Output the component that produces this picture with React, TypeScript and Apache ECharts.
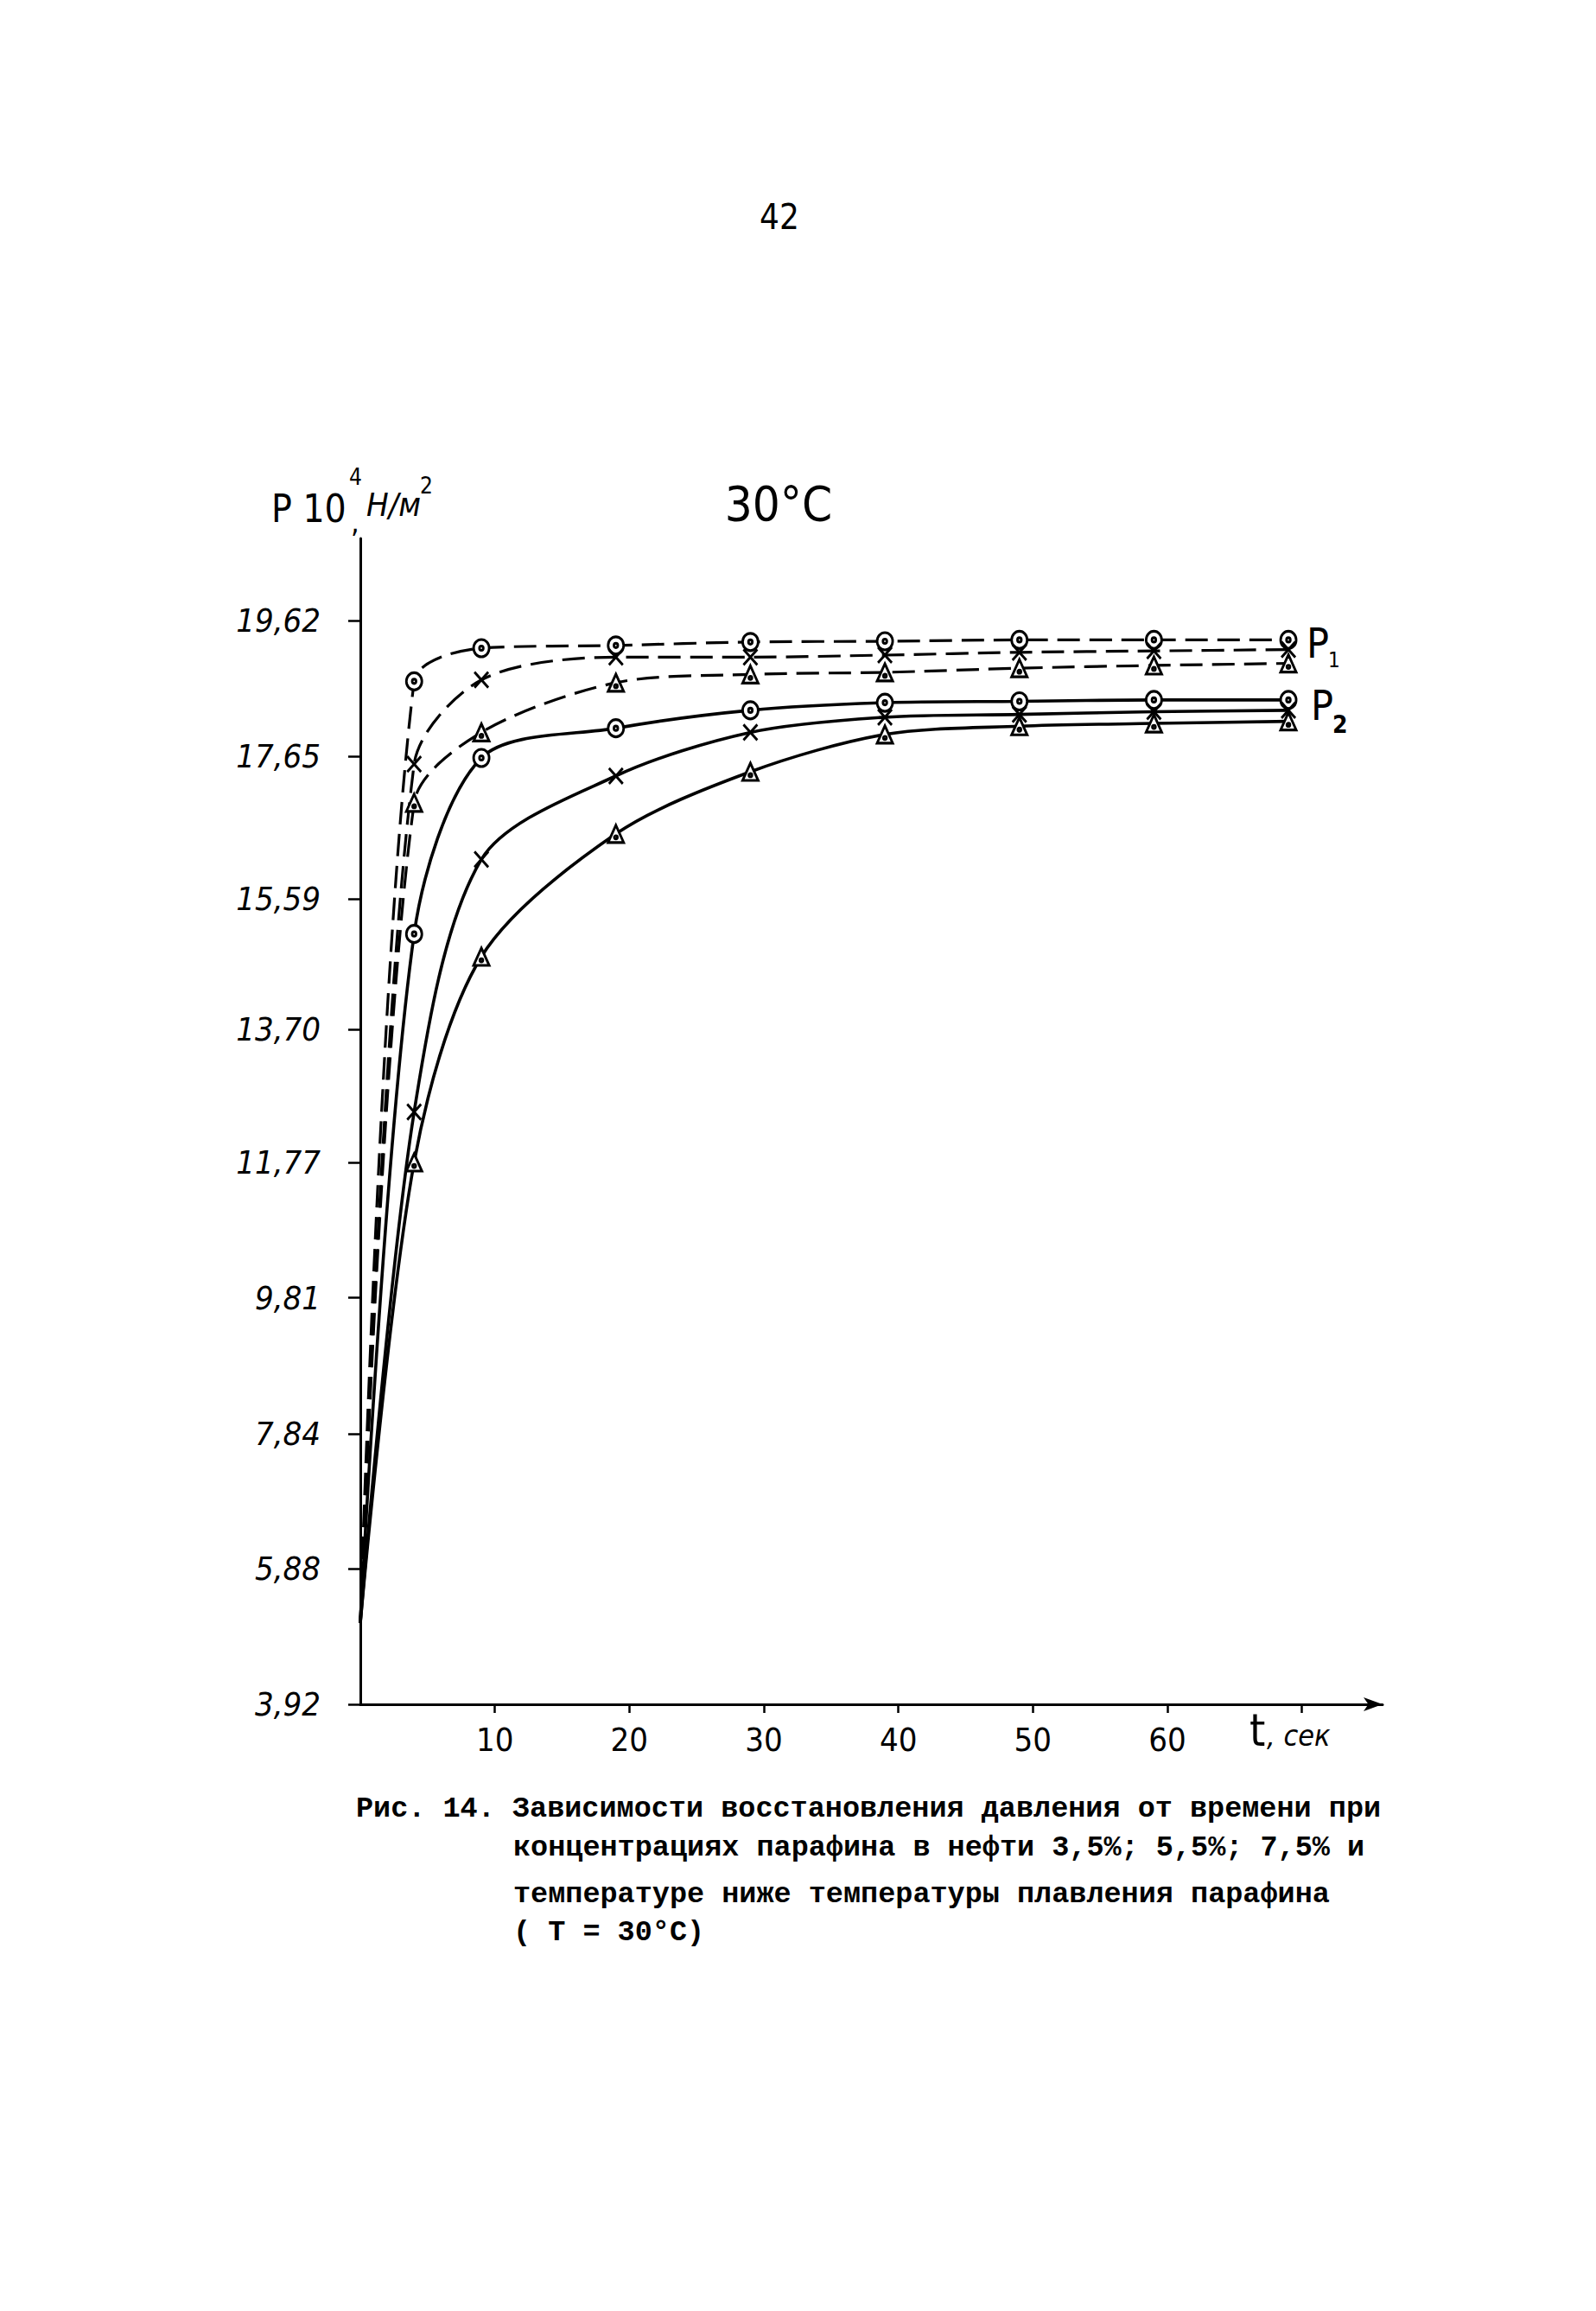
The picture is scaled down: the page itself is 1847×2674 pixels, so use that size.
import React, { useEffect, useRef } from "react";
import * as echarts from "echarts";

// ---- data ----
const yTicks = [3.92, 5.88, 7.84, 9.81, 11.77, 13.7, 15.59, 17.65, 19.62];
const xLabelTicks = [10, 20, 30, 40, 50, 60];
const xMarkTicks = [10, 20, 30, 40, 50, 60, 70];
const times = [0, 4, 9, 19, 29, 39, 49, 59, 69];

// P1 group (dashed)
const p1Circle = [5.1, 18.74, 19.22, 19.26, 19.31, 19.32, 19.34, 19.34, 19.34];
const p1Cross = [5.1, 17.54, 18.76, 19.09, 19.09, 19.12, 19.16, 19.18, 19.2];
const p1Triangle = [5.1, 16.98, 18.0, 18.72, 18.84, 18.87, 18.93, 18.97, 19.0];
// P2 group (solid)
const p2Circle = [5.1, 15.08, 17.63, 18.06, 18.32, 18.43, 18.45, 18.47, 18.47];
const p2Cross = [5.1, 12.5, 16.16, 17.37, 18.0, 18.22, 18.26, 18.3, 18.32];
const p2Triangle = [5.1, 11.77, 14.75, 16.53, 17.43, 17.97, 18.09, 18.13, 18.16];

const captionLines = [
  "Рис. 14. Зависимости восстановления давления от времени при",
  "концентрациях парафина в нефти 3,5%; 5,5%; 7,5% и",
  "температуре ниже температуры плавления парафина",
  "( Т = 30°С)",
];

const HAND = "'Liberation Sans Narrow', 'DejaVu Sans Condensed', 'Liberation Sans', sans-serif";
const MONO = "'Liberation Mono', 'DejaVu Sans Mono', monospace";

const SYM_CIRCLE =
  "path://M10,0A10,10,0,1,1,-10,0A10,10,0,1,1,10,0ZM2.5,0A2.5,2.5,0,1,1,-2.5,0A2.5,2.5,0,1,1,2.5,0Z";
const SYM_CROSS = "path://M-8,-10L8,10M8,-10L-8,10";
const SYM_TRI = "path://M0,-11L9,9L-9,9ZM1.8,3A1.8,1.8,0,1,1,-1.8,3A1.8,1.8,0,1,1,1.8,3Z";

function makeSeries(values: number[], symbol: string, dashed: boolean) {
  return {
    type: "line",
    smooth: 0.3,
    symbol,
    symbolSize: symbol === SYM_CROSS ? [16, 18] : [18, 20],
    showSymbol: true,
    data: times.map((t, i) =>
      i === 0 ? { value: [t, values[i]], symbol: "none" } : { value: [t, values[i]] }
    ),
    lineStyle: {
      color: "#000",
      width: dashed ? 3.2 : 3.6,
      type: dashed ? [26, 11] : "solid",
    },
    itemStyle: { color: "#fff", borderColor: "#000", borderWidth: 3 },
    z: 3,
  };
}

function txt(
  text: string,
  x: number,
  y: number,
  size: number,
  opts: { family?: string; weight?: string; style?: string; align?: string } = {}
) {
  const align = opts.align || "left";
  return {
    type: "text",
    x,
    y,
    style: {
      text,
      fill: "#000",
      fontSize: size,
      fontFamily: opts.family || HAND,
      fontWeight: opts.weight || "normal",
      fontStyle: opts.style || "normal",
      align,
      verticalAlign: "middle",
      textAlign: align,
      textVerticalAlign: "middle",
    },
    z: 10,
  };
}

const option = {
  animation: false,
  backgroundColor: "#fff",
  grid: { left: 417, right: 247, top: 623, bottom: 702, containLabel: false },
  xAxis: {
    type: "value",
    min: 0,
    max: 76,
    axisLine: {
      show: true,
      symbol: ["none", "arrow"],
      symbolSize: [12, 22],
      lineStyle: { color: "#000", width: 3 },
    },
    axisTick: {
      show: true,
      customValues: xMarkTicks,
      length: 10,
      lineStyle: { color: "#000", width: 2.5 },
    },
    axisLabel: {
      customValues: xLabelTicks,
      margin: 22,
      color: "#000",
      fontSize: 38,
      fontFamily: HAND,
    },
    splitLine: { show: false },
  },
  yAxis: {
    type: "value",
    min: 3.92,
    max: 20.81,
    axisLine: { show: true, lineStyle: { color: "#000", width: 3 } },
    axisTick: {
      show: true,
      customValues: yTicks,
      length: 14,
      lineStyle: { color: "#000", width: 2.5 },
    },
    axisLabel: {
      customValues: yTicks,
      margin: 46,
      color: "#000",
      fontSize: 38,
      fontFamily: HAND,
      fontStyle: "italic",
      formatter: (v: number) => v.toFixed(2).replace(".", ","),
    },
    splitLine: { show: false },
  },
  series: [
    makeSeries(p1Circle, SYM_CIRCLE, true),
    makeSeries(p1Cross, SYM_CROSS, true),
    makeSeries(p1Triangle, SYM_TRI, true),
    makeSeries(p2Circle, SYM_CIRCLE, false),
    makeSeries(p2Cross, SYM_CROSS, false),
    makeSeries(p2Triangle, SYM_TRI, false),
  ],
  graphic: [
    txt("42", 902, 251, 40, { align: "center" }),
    txt("30°C", 901, 582, 56, { align: "center" }),
    // axis title P 10^4 Н/м²
    txt("P 10", 314, 588, 44),
    txt("4", 404, 552, 26),
    txt(",", 406, 604, 34),
    txt("Н/м", 424, 584, 38, { style: "italic" }),
    txt("2", 486, 562, 26),
    // curve group labels
    txt("P", 1512, 744, 48),
    txt("1", 1537, 764, 24),
    txt("P", 1517, 816, 48),
    txt("2", 1542, 838, 28, { weight: "bold" }),
    // x axis unit
    txt("t", 1446, 2002, 52),
    txt(", сек", 1466, 2008, 34, { style: "italic" }),
    // caption
    txt(captionLines[0], 412, 2093, 33.5, { family: MONO, weight: "bold" }),
    txt(captionLines[1], 594, 2138, 33.5, { family: MONO, weight: "bold" }),
    txt(captionLines[2], 594, 2192, 33.5, { family: MONO, weight: "bold" }),
    txt(captionLines[3], 594, 2236, 33.5, { family: MONO, weight: "bold" }),
  ],
};

export default function App() {
  const ref = useRef<HTMLDivElement>(null);
  useEffect(() => {
    document.body.style.margin = "0";
    const chart = echarts.init(ref.current as HTMLDivElement, null, { renderer: "svg" });
    chart.setOption(option as any);
    return () => chart.dispose();
  }, []);
  return <div ref={ref} style={{ width: 1847, height: 2674, background: "#fff" }} />;
}
